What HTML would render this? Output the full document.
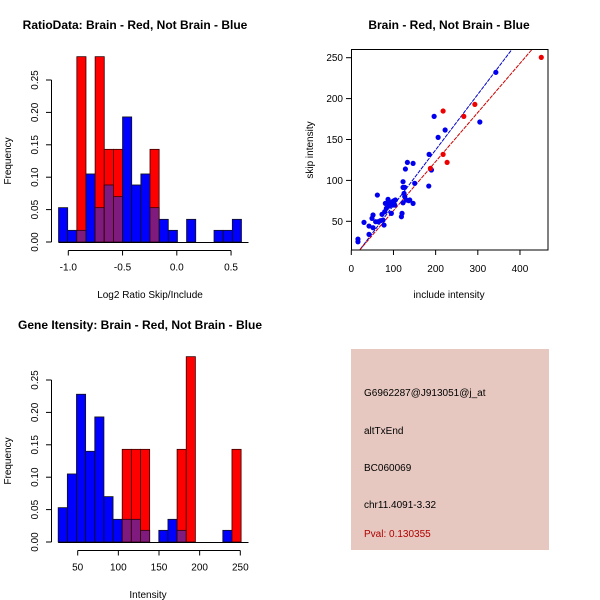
<!DOCTYPE html>
<html><head><meta charset="utf-8"><style>
body{margin:0;background:#fff;}
svg{display:block;font-family:"Liberation Sans",Arial,sans-serif;}
</style></head><body>
<svg id="c" width="600" height="600" viewBox="0 0 600 600">
<rect x="0" y="0" width="600" height="600" fill="#fff"/>
<text x="135" y="29" font-size="12" font-weight="bold" text-anchor="middle">RatioData: Brain - Red, Not Brain - Blue</text>
<text x="449" y="29" font-size="12" font-weight="bold" text-anchor="middle">Brain - Red, Not Brain - Blue</text>
<text x="140" y="329" font-size="12" font-weight="bold" text-anchor="middle">Gene Itensity: Brain - Red, Not Brain - Blue</text>
<text x="150" y="298" font-size="10" text-anchor="middle">Log2 Ratio Skip/Include</text>
<text x="148" y="598" font-size="10" text-anchor="middle">Intensity</text>
<text transform="translate(11,161) rotate(-90)" font-size="10" text-anchor="middle">Frequency</text>
<text transform="translate(11,461) rotate(-90)" font-size="10" text-anchor="middle">Frequency</text>
<text x="449" y="298" font-size="10" text-anchor="middle">include intensity</text>
<text transform="translate(313,150) rotate(-90)" font-size="10" text-anchor="middle">skip intensity</text>
<g>
<rect x="351" y="349" width="198" height="201" fill="#e6c8c0"/>
<text x="364" y="396" font-size="10">G6962287@J913051@j_at</text>
<text x="364" y="434" font-size="10">altTxEnd</text>
<text x="364" y="471" font-size="10">BC060069</text>
<text x="364" y="508" font-size="10">chr11.4091-3.32</text>
<text x="364" y="537" font-size="10" fill="#b00000">Pval: 0.130355</text>
</g>
</svg>
<script>
// ratio histogram data
const ratioBinStart = -1.09;
const ratioBinWidth = 0.0843;
const ratioBlue = [.053,.018,.018,.105,.053,.088,.070,.193,.088,.105,.053,.035,.018,0,.035,0,0,.018,.018,.035];
const ratioRed  = [0,0,.286,0,.286,.143,.143,0,0,0,.143,0,0,0,0,0,0,0,0,0];
const ratioXTicks = [-1.0,-0.5,0.0,0.5];
const ratioXLabels = ["-1.0","-0.5","0.0","0.5"];
// intensity histogram data
const intBinStart = 26;
const intBinWidth = 11.25;
const intBlue = [.053,.105,.228,.14,.193,.07,.035,.035,.035,.018,0,.018,.035,.018,0,0,0,0,.018,0];
const intRed  = [0,0,0,0,0,0,0,.143,.143,.143,0,0,0,.143,.286,0,0,0,0,.143];
const intXTicks = [50,100,150,200,250];
const freqTicks = [0,0.05,0.10,0.15,0.20,0.25];
const freqLabels = ["0.00","0.05","0.10","0.15","0.20","0.25"];
// scatter data
const blueX = [15.8,15.8,30.1,42.0,42.0,51.5,49.1,51.5,57.8,61.8,63.3,68.9,72.8,75.2,77.6,79.2,80.8,83.1,87.1,89.5,91.1,95.0,97.4,99.0,101.3,102.9,104.5,118.8,120.3,122.7,122.7,122.7,125.1,126.7,126.7,128.3,130.6,133.0,136.2,138.6,146.5,146.5,150.4,183.7,184.5,190.0,196.4,205.9,222.5,304.8,342.8];
const blueY = [28.3,25.0,48.7,34.0,44.2,57.7,53.6,42.2,49.5,82.1,49.5,50.7,58.5,51.5,45.4,61.7,71.9,65.8,76.8,68.7,71.9,59.7,74.0,69.9,75.2,69.9,76.0,55.6,59.7,72.7,91.5,98.4,84.1,91.5,80.1,113.9,76.0,122.0,75.2,76.0,71.9,120.8,96.4,93.1,131.8,112.7,178.3,152.6,161.6,171.4,232.1];
const redX = [217.7,266.8,293.0,217.7,227.2,187.6,450.5];
const redY = [184.8,178.3,192.9,131.8,122.0,114.7,250.4];
const blueFit = [1.5,0.679];
const redFit = [3.0,0.600];
const scXTicks = [0,100,200,300,400];
const scYTicks = [50,100,150,200,250];

const NS="http://www.w3.org/2000/svg";
const svg=document.getElementById('c');
function mk(tag,attrs,parent){const e=document.createElementNS(NS,tag);for(const k in attrs)e.setAttribute(k,attrs[k]);(parent||svg).appendChild(e);return e;}

function histogram(name,y0,binStart,binW,blue,red,xTicks,xLabels,xToPx){
  const g=mk('g',{});
  
  
  const yPx=v=>y0-v*648;
  for(let i=0;i<blue.length;i++){
    const x1=xToPx(binStart+i*binW), x2=xToPx(binStart+(i+1)*binW);
    const b=blue[i], r=red[i];
    if(b>0){const e=mk('rect',{x:x1,y:yPx(b),width:x2-x1,height:y0-yPx(b),fill:'#0000ff',stroke:'#111','stroke-width':0.8},g);
      }
    if(r>0){const e=mk('rect',{x:x1,y:yPx(r),width:x2-x1,height:y0-yPx(r),fill:'#ff0000',stroke:'#300','stroke-width':0.8},g);
      }
    const m=Math.min(b,r);
    if(m>0){const e=mk('rect',{x:x1,y:yPx(m),width:x2-x1,height:y0-yPx(m),fill:'#7f1a7f',stroke:'#300','stroke-width':0.8},g);
      }
  }
  mk('line',{x1:xToPx(binStart),x2:248.5,y1:y0+0.5,y2:y0+0.5,stroke:'#000'},g);
  // y axis
  const ya=mk('g',{},g);
  
  mk('line',{x1:51.5,x2:51.5,y1:yPx(0),y2:yPx(0.25),stroke:'#000'},ya);
  freqTicks.forEach((v,i)=>{mk('line',{x1:46,x2:51.5,y1:yPx(v),y2:yPx(v),stroke:'#000'},ya);
    const t=mk('text',{transform:`translate(38,${yPx(v)}) rotate(-90)`,'font-size':10,'text-anchor':'middle'},ya);t.textContent=freqLabels[i];});
  // x axis
  const xa=mk('g',{},g);
  
  const ax=y0+8.5;
  mk('line',{x1:xToPx(xTicks[0]),x2:xToPx(xTicks[xTicks.length-1]),y1:ax,y2:ax,stroke:'#000'},xa);
  xTicks.forEach((v,i)=>{mk('line',{x1:xToPx(v),x2:xToPx(v),y1:ax,y2:ax+5,stroke:'#000'},xa);
    const t=mk('text',{x:xToPx(v),y:ax+20,'font-size':10,'text-anchor':'middle'},xa);t.textContent=xLabels[i];});
}
histogram('ratio-histogram',242,ratioBinStart,ratioBinWidth,ratioBlue,ratioRed,ratioXTicks,ratioXLabels,v=>68.3+(v+1)*108.5);
histogram('intensity-histogram',542,intBinStart,intBinWidth,intBlue,intRed,intXTicks,intXTicks.map(String),v=>77.7+(v-50)*0.813);

// scatter
const sx=v=>351.3+v*0.4217, sy=v=>57.7+(250-v)*0.818;
const sg=mk('g',{});


mk('defs',{}).innerHTML='<clipPath id="clip"><rect x="351.5" y="49.5" width="196.5" height="200.5"/></clipPath>';
const pg=mk('g',{'clip-path':'url(#clip)'},sg);
function fitLine(fit,color,name){const x0=-50,x1=600;const l=mk('line',{x1:sx(x0),y1:sy(fit[0]+fit[1]*x0),x2:sx(x1),y2:sy(fit[0]+fit[1]*x1),stroke:color,'stroke-width':1,'stroke-dasharray':'4,1'},pg);
  }
fitLine(blueFit,'#0000cc','blue-fit-line');
fitLine(redFit,'#cc0000','red-fit-line');
blueX.forEach((x,i)=>{const c=mk('circle',{cx:sx(x),cy:sy(blueY[i]),r:2.6,fill:'#0000ee'},pg);
  });
redX.forEach((x,i)=>{const c=mk('circle',{cx:sx(x),cy:sy(redY[i]),r:2.6,fill:'#ee0000'},pg);
  });
const box=mk('rect',{x:351.5,y:49.5,width:196.5,height:200.5,fill:'none',stroke:'#000'},sg);

scXTicks.forEach(v=>{mk('line',{x1:sx(v),x2:sx(v),y1:250,y2:255,stroke:'#000'},sg);
  const t=mk('text',{x:sx(v),y:272,'font-size':10,'text-anchor':'middle'},sg);t.textContent=v;});
scYTicks.forEach(v=>{mk('line',{x1:346,x2:351.5,y1:sy(v),y2:sy(v),stroke:'#000'},sg);
  const t=mk('text',{x:343,y:sy(v)+3.5,'font-size':10,'text-anchor':'end'},sg);t.textContent=v;});
</script>
</body></html>
